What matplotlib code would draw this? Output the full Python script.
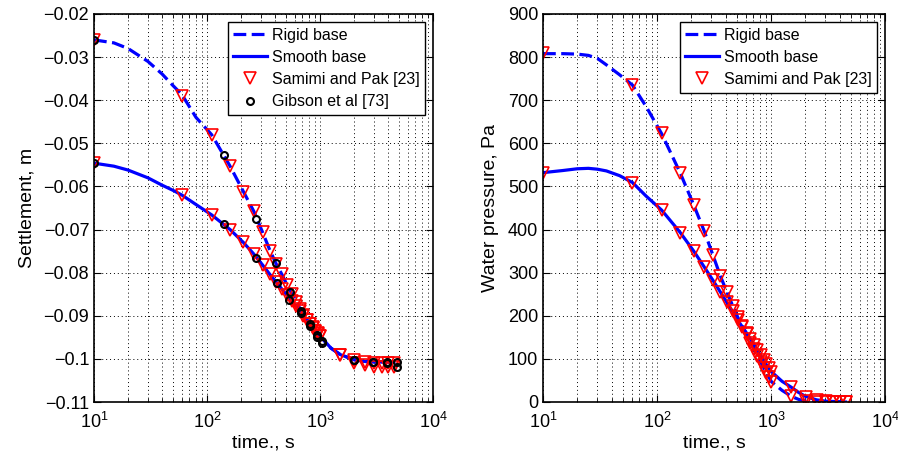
import numpy as np
import matplotlib
matplotlib.use("Agg")
import matplotlib.pyplot as plt
from matplotlib.ticker import LogLocator, NullFormatter, MultipleLocator, FuncFormatter

plt.rcParams['font.family'] = ['Liberation Sans', 'DejaVu Sans']
plt.rcParams['axes.unicode_minus'] = True

# ---- marker times (s) ----
t_mark = [10, 60, 110, 160, 210, 260, 310, 360, 410, 460, 510, 560, 610, 660,
          710, 760, 810, 860, 910, 960, 1010, 1510, 2010, 2510, 3010, 3510, 4010, 4510]

# ---- settlement (left) ----
set_t = [10, 15, 20, 30, 40, 50, 60, 80, 110, 160, 210, 260, 310, 360, 410, 460, 510,
         610, 710, 810, 910, 1010, 1250, 1510, 2010, 2510, 3010, 4510]
set_rigid_y = [-0.026, -0.0267, -0.028, -0.031, -0.0339, -0.0366, -0.0387, -0.0440,
               -0.048, -0.0553, -0.0612, -0.0658, -0.0706, -0.0748, -0.0780, -0.0804,
               -0.0828, -0.0866, -0.0896, -0.0918, -0.0935, -0.0948, -0.0975, -0.0990,
               -0.1002, -0.1006, -0.1007, -0.1007]
set_smooth_y = [-0.0546, -0.0553, -0.0562, -0.058, -0.0597, -0.0609, -0.062, -0.0642,
                -0.0666, -0.0700, -0.0730, -0.0757, -0.0782, -0.0804, -0.0822, -0.0838,
                -0.0852, -0.0878, -0.0900, -0.0919, -0.0935, -0.0948, -0.0975, -0.0990,
                -0.1002, -0.1006, -0.1007, -0.1007]

samimi_set_rigid = [-0.026, -0.039, -0.048, -0.0553, -0.0612, -0.0658, -0.0706, -0.0750,
                    -0.0780, -0.0802, -0.0828, -0.0850, -0.0868, -0.0885, -0.0898, -0.0910,
                    -0.0920, -0.0928, -0.0935, -0.0941, -0.0947, -0.0990, -0.1010, -0.1015,
                    -0.1018, -0.1018, -0.1018, -0.1018]
samimi_set_smooth = [-0.0546, -0.062, -0.0666, -0.0700, -0.0730, -0.0757, -0.0782, -0.0804,
                     -0.0822, -0.0838, -0.0852, -0.0866, -0.0878, -0.0890, -0.0900, -0.0910,
                     -0.0919, -0.0927, -0.0935, -0.0942, -0.0948, -0.0991, -0.1003, -0.1008,
                     -0.1010, -0.1010, -0.1010, -0.1010]

gib_rigid_t = [10, 141, 272, 406, 542, 675, 815, 950, 1050, 2000, 2925, 3880, 4800]
gib_rigid_y = [-0.026, -0.0526, -0.0676, -0.0777, -0.0844, -0.0888, -0.0918, -0.0945,
               -0.0958, -0.1003, -0.1008, -0.1010, -0.1018]
gib_smooth_t = [10, 141, 272, 414, 535, 675, 815, 950, 1050, 2000, 2925, 3880, 4800]
gib_smooth_y = [-0.0546, -0.0688, -0.0767, -0.0823, -0.0864, -0.0893, -0.0924, -0.0950,
                -0.0962, -0.1003, -0.1007, -0.1007, -0.1007]

# ---- water pressure (right) ----
wp_t = [10, 15, 20, 25, 30, 36, 47, 61, 80, 110, 160, 210, 260, 310, 360, 410, 460,
        510, 610, 710, 810, 910, 1010, 1250, 1510, 1750, 2010, 2510, 3010, 4510]
wp_rigid_y = [808, 808, 807, 804, 797, 782, 759, 735, 686, 622, 531, 457, 396, 340, 292,
              255, 224, 197, 157, 122, 93, 68, 47, 27, 13, 6, 2, 0, 0, 0]
wp_smooth_y = [532, 537, 541, 542, 540, 536, 525, 509, 478, 445, 393, 350, 313, 282, 255,
               231, 210, 190, 160, 133, 108, 87, 70, 48, 34, 22, 13, 5, 2, 0]

samimi_wp_rigid = [809, 735, 623, 531, 457, 396, 340, 292, 255, 222, 197, 176, 157, 138,
                   122, 107, 93, 80, 68, 57, 47, 13, 2, 0, 0, 0, 0, 0]
samimi_wp_smooth = [532, 509, 445, 393, 350, 313, 282, 255, 231, 210, 190, 173, 160, 146,
                    133, 120, 108, 97, 87, 78, 70, 34, 12, 5, 2, 1, 0, 0]

fig = plt.figure(figsize=(8.98, 4.59), dpi=100)
ax1 = fig.add_axes([94 / 898, 57 / 459, 339 / 898, 388 / 459])
ax2 = fig.add_axes([543 / 898, 57 / 459, 342 / 898, 388 / 459])

dash = (0, (4, 1.7))
line_kw = dict(color='blue', linewidth=2.3)
tri_kw = dict(linestyle='none', marker='v', markersize=8, markerfacecolor='none',
              markeredgecolor='red', markeredgewidth=1.2)
circ_kw = dict(linestyle='none', marker='o', markersize=5, markerfacecolor='none',
               markeredgecolor='black', markeredgewidth=1.5)

# left
ax1.plot(set_t, set_rigid_y, linestyle=dash, label='Rigid base', **line_kw)
ax1.plot(set_t, set_smooth_y, linestyle='-', label='Smooth base', **line_kw)
ax1.plot(t_mark, samimi_set_rigid, label='Samimi and Pak [23]', **tri_kw)
ax1.plot(t_mark, samimi_set_smooth, **tri_kw)
ax1.plot(gib_rigid_t, gib_rigid_y, label='Gibson et al [73]', **circ_kw)
ax1.plot(gib_smooth_t, gib_smooth_y, **circ_kw)
ax1.set_ylim(-0.11, -0.02)
ax1.yaxis.set_major_locator(MultipleLocator(0.01))
ax1.yaxis.set_major_formatter(FuncFormatter(
    lambda v, p: ('\u22120.1' if abs(v + 0.1) < 1e-9 else ('%.2f' % v).replace('-', '\u2212'))))
ax1.set_ylabel('Settlement, m', fontsize=14, labelpad=6)

# right
ax2.plot(wp_t, wp_rigid_y, linestyle=dash, label='Rigid base', **line_kw)
ax2.plot(wp_t, wp_smooth_y, linestyle='-', label='Smooth base', **line_kw)
ax2.plot(t_mark, samimi_wp_rigid, label='Samimi and Pak [23]', **tri_kw)
ax2.plot(t_mark, samimi_wp_smooth, **tri_kw)
ax2.set_ylim(0, 900)
ax2.yaxis.set_major_locator(MultipleLocator(100))
ax2.set_ylabel('Water pressure, Pa', fontsize=14, labelpad=6)

for ax in (ax1, ax2):
    ax.set_xscale('log')
    ax.set_xlim(10, 1e4)
    ax.xaxis.set_major_locator(LogLocator(base=10, numticks=10))
    ax.xaxis.set_minor_locator(LogLocator(base=10, subs=np.arange(2, 10), numticks=20))
    ax.xaxis.set_minor_formatter(NullFormatter())
    ax.grid(True, which='major', axis='both', color='black', linestyle=(0, (1, 3)), linewidth=0.7)
    ax.grid(True, which='minor', axis='x', color='black', linestyle=(0, (1, 3)), linewidth=0.7)
    ax.tick_params(which='both', direction='in', top=True, right=True, labelsize=13)
    ax.tick_params(axis='x', which='major', pad=7)
    ax.tick_params(which='major', length=5)
    ax.tick_params(which='minor', length=3)
    for s in ax.spines.values():
        s.set_linewidth(1.2)
    ax.set_xlabel('time., s', fontsize=14, labelpad=2)
    leg = ax.legend(loc='upper right', fontsize=11.5, handlelength=2.1, handletextpad=0.3,
                    labelspacing=0.45, borderpad=0.35, fancybox=False, framealpha=1,
                    borderaxespad=0.5)
    leg.get_frame().set_edgecolor('black')
    leg.get_frame().set_linewidth(1.0)

fig.savefig('out.png', dpi=100)
